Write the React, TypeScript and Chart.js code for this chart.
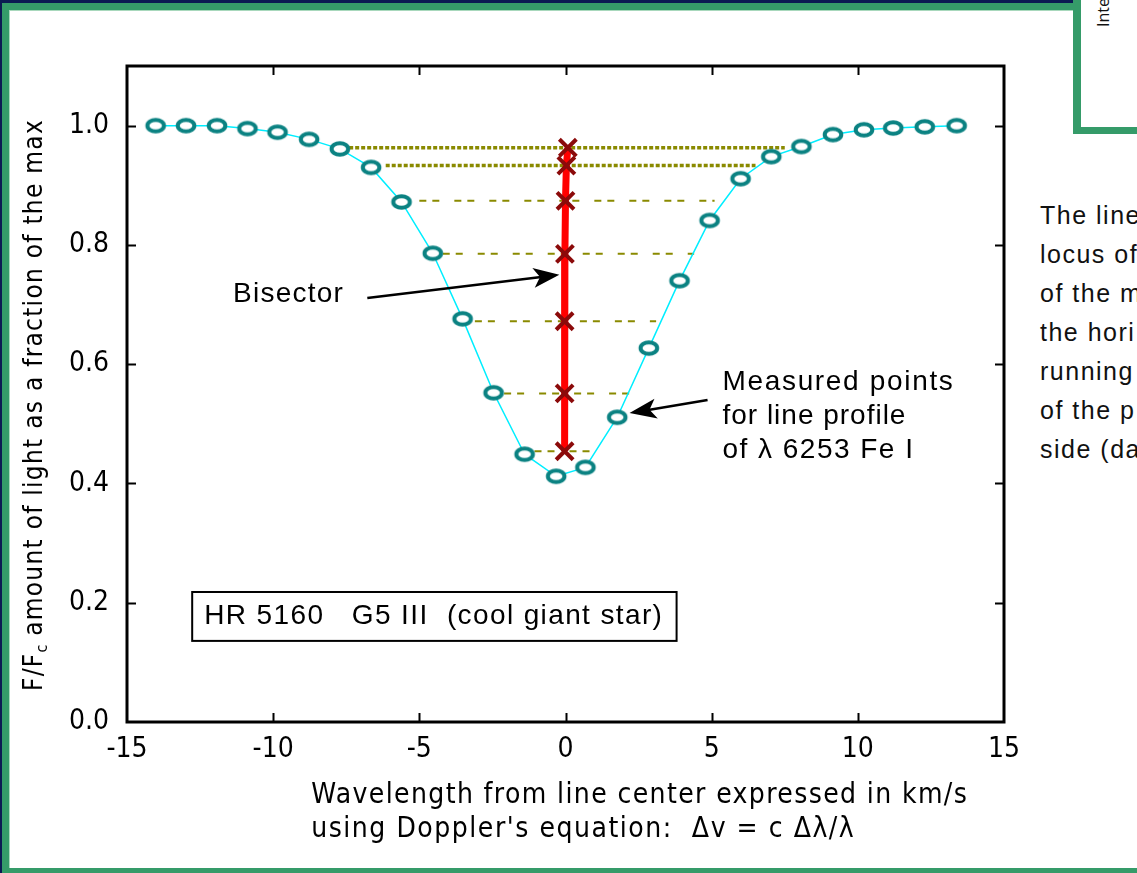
import React, { useEffect, useRef } from 'react';
import { Chart, registerables } from 'chart.js';

Chart.register(...registerables);

// ---- data ----
const profileX = [-14.02, -12.98, -11.92, -10.88, -9.85, -8.77, -7.72, -6.65, -5.61, -4.54, -3.52, -2.46, -1.40, -0.32, 0.68, 1.77, 2.85, 3.90, 4.93, 5.99, 7.04, 8.07, 9.15, 10.21, 11.21, 12.29, 13.38];
const profileY = [1.0, 1.0, 1.0, 0.995, 0.989, 0.977, 0.961, 0.930, 0.872, 0.786, 0.676, 0.552, 0.449, 0.412, 0.427, 0.511, 0.627, 0.740, 0.841, 0.911, 0.948, 0.965, 0.985, 0.993, 0.996, 0.998, 1.0];
const bisectorX = [0.08, 0.03, 0.0, -0.02, -0.03, -0.03, -0.03];
const bisectorY = [0.963, 0.933, 0.874, 0.785, 0.672, 0.551, 0.454];
const levelLeft = [-7.4, -6.15, -5.0, -4.2, -3.1, -2.1, -1.06];
const levelRight = [7.5, 6.5, 5.1, 4.4, 3.1, 2.2, 1.0];

const xMin = -15;
const xMax = 15;
const xStep = 5;
const yMin = 0;
const yMax = 1.1;
const yStep = 0.2;

const yTitle = ['F/F', 'c', ' amount of light as a fraction of the max'];
const xTitle1 = 'Wavelength from line center expressed in km/s';
const xTitle2 = "using Doppler's equation:  \u0394v = c \u0394\u03bb/\u03bb";
const bisectorLabel = 'Bisector';
const measuredLabel = ['Measured points', 'for line profile', 'of \u03bb 6253 Fe I'];
const starLabel = 'HR 5160   G5 III  (cool giant star)';
const sideText = ['The line', 'locus of', 'of the m', 'the hori', 'running', 'of the p', 'side (da'];

const FONT = '"Liberation Sans Narrow", "DejaVu Sans Condensed", "Liberation Sans", Arial, sans-serif';
const FONT2 = '"Liberation Sans", Arial, sans-serif';

function fitText(ctx: CanvasRenderingContext2D, text: string, x: number, y: number, width: number, font: string) {
  ctx.font = font;
  (ctx as any).letterSpacing = '0px';
  const w = ctx.measureText(text).width;
  const n = Array.from(text).length;
  const ls = n > 1 ? (width - w) / n : 0;
  (ctx as any).letterSpacing = ls.toFixed(2) + 'px';
  ctx.fillText(text, x, y);
  (ctx as any).letterSpacing = '0px';
}

function arrow(ctx: CanvasRenderingContext2D, x1: number, y1: number, x2: number, y2: number, len: number, half: number) {
  const a = Math.atan2(y2 - y1, x2 - x1);
  const c = Math.cos(a);
  const s = Math.sin(a);
  ctx.beginPath();
  ctx.moveTo(x1, y1);
  ctx.lineTo(x2 - len * 0.7 * c, y2 - len * 0.7 * s);
  ctx.stroke();
  ctx.beginPath();
  ctx.moveTo(x2, y2);
  ctx.lineTo(x2 - len * c - half * s, y2 - len * s + half * c);
  ctx.lineTo(x2 - len * 0.75 * c, y2 - len * 0.75 * s);
  ctx.lineTo(x2 - len * c + half * s, y2 - len * s - half * c);
  ctx.closePath();
  ctx.fill();
}

function makeEllipse(): HTMLCanvasElement {
  const c = document.createElement('canvas');
  c.width = 24;
  c.height = 20;
  const g = c.getContext('2d')!;
  g.beginPath();
  g.ellipse(12, 10, 8.3, 5.8, 0, 0, Math.PI * 2);
  g.fillStyle = '#ffffff';
  g.fill();
  g.lineWidth = 4;
  g.strokeStyle = '#0b8282';
  g.stroke();
  return c;
}

const framePlugin = {
  id: 'frameAndNotes',
  afterDatasetsDraw(chart: any) {
    const { ctx, chartArea: a, scales } = chart;
    const x = scales.x;
    const y = scales.y;
    ctx.save();
    // plot frame
    ctx.strokeStyle = '#000';
    ctx.lineWidth = 3;
    ctx.strokeRect(a.left, a.top, a.right - a.left, a.bottom - a.top);
    // inward ticks
    ctx.lineWidth = 2;
    ctx.beginPath();
    for (const t of x.ticks) {
      if (t.value <= xMin || t.value >= xMax) continue;
      const px = Math.round(x.getPixelForValue(t.value)) + 0.5;
      ctx.moveTo(px, a.bottom);
      ctx.lineTo(px, a.bottom - 9);
      ctx.moveTo(px, a.top);
      ctx.lineTo(px, a.top + 9);
    }
    for (const t of y.ticks) {
      if (t.value <= yMin + 1e-9) continue;
      const py = Math.round(y.getPixelForValue(t.value)) + 0.5;
      ctx.moveTo(a.left, py);
      ctx.lineTo(a.left + 9, py);
      ctx.moveTo(a.right, py);
      ctx.lineTo(a.right - 9, py);
    }
    ctx.stroke();

    ctx.fillStyle = '#000';
    ctx.strokeStyle = '#000';
    ctx.textBaseline = 'middle';
    ctx.textAlign = 'left';

    // Bisector annotation
    fitText(ctx, bisectorLabel, x.getPixelForValue(-11.37), y.getPixelForValue(0.717), 111, '28px ' + FONT2);
    ctx.lineWidth = 2.5;
    arrow(ctx, x.getPixelForValue(-6.78), y.getPixelForValue(0.711), x.getPixelForValue(-0.21), y.getPixelForValue(0.750), 26, 10);

    // Measured points annotation
    const mY = [0.569, 0.512, 0.455];
    const mW = [232, 184, 192];
    measuredLabel.forEach((t, i) => {
      fitText(ctx, t, x.getPixelForValue(5.37), y.getPixelForValue(mY[i]), mW[i], '28px ' + FONT2);
    });
    arrow(ctx, x.getPixelForValue(4.86), y.getPixelForValue(0.540), x.getPixelForValue(2.19), y.getPixelForValue(0.518), 27, 10);

    // star label box
    const bl = x.getPixelForValue(-12.77);
    const br = x.getPixelForValue(3.80);
    const bt = y.getPixelForValue(0.218);
    const bb = y.getPixelForValue(0.136);
    ctx.lineWidth = 2;
    ctx.fillStyle = '#fff';
    ctx.fillRect(bl, bt, br - bl, bb - bt);
    ctx.strokeRect(bl, bt, br - bl, bb - bt);
    ctx.fillStyle = '#000';
    fitText(ctx, starLabel, x.getPixelForValue(-12.36), y.getPixelForValue(0.177), 459, '28px ' + FONT2);

    // x axis title
    const tx = x.getPixelForValue(-8.7);
    fitText(ctx, xTitle1, tx, a.bottom + 74, 657, '28px ' + FONT);
    fitText(ctx, xTitle2, tx, a.bottom + 108, 544, '28px ' + FONT);

    // y axis title (rotated)
    ctx.translate(35, 691);
    ctx.rotate(-Math.PI / 2);
    const mainFont = '26px ' + FONT;
    const subFont = '16px ' + FONT;
    ctx.font = mainFont;
    (ctx as any).letterSpacing = '0px';
    const w0 = ctx.measureText(yTitle[0]).width;
    const w2 = ctx.measureText(yTitle[2]).width;
    ctx.font = subFont;
    const w1 = ctx.measureText(yTitle[1]).width;
    const total = 572;
    const n = Array.from(yTitle[0] + yTitle[2]).length;
    const ls = (total - w0 - w1 - w2) / n;
    ctx.font = mainFont;
    (ctx as any).letterSpacing = ls + 'px';
    ctx.fillText(yTitle[0], 0, 0);
    const p1 = w0 + ls * yTitle[0].length;
    ctx.font = subFont;
    (ctx as any).letterSpacing = '0px';
    ctx.fillText(yTitle[1], p1, 8);
    ctx.font = mainFont;
    (ctx as any).letterSpacing = ls + 'px';
    ctx.fillText(yTitle[2], p1 + w1, 0);
    (ctx as any).letterSpacing = '0px';
    ctx.restore();
  },
};

export default function App() {
  const ref = useRef<HTMLCanvasElement | null>(null);

  useEffect(() => {
    if (!ref.current) return;
    const ellipse = makeEllipse();
    const profile = profileX.map((v, i) => ({ x: v, y: profileY[i] }));
    const bisector = bisectorX.map((v, i) => ({ x: v, y: bisectorY[i] }));
    const levels = bisectorY.map((lv, i) => ({
      label: 'level ' + (i + 1),
      data: [
        { x: levelLeft[i], y: lv },
        { x: levelRight[i], y: lv },
      ],
      showLine: true,
      borderColor: '#8a8a00',
      borderWidth: i < 2 ? 3.5 : 2,
      borderDash: i < 2 ? [4, 2] : [7, 6, 7, 15],
      pointRadius: 0,
      order: 3,
    }));

    const chart = new Chart(ref.current, {
      type: 'scatter',
      data: {
        datasets: [
          {
            label: 'Measured profile',
            data: profile,
            showLine: true,
            borderColor: '#00eeff',
            borderWidth: 1.5,
            tension: 0,
            pointStyle: ellipse as any,
            pointRadius: 9,
            order: 0,
          },
          {
            label: 'Bisector points',
            data: bisector,
            showLine: false,
            pointStyle: 'crossRot',
            pointRadius: 12,
            pointBorderWidth: 4,
            pointBorderColor: '#8b0a0a',
            pointBackgroundColor: '#8b0a0a',
            order: 1,
          },
          {
            label: 'Bisector',
            data: bisector,
            showLine: true,
            borderColor: '#ff0000',
            borderWidth: 7,
            pointRadius: 0,
            order: 2,
          },
          ...levels,
        ] as any,
      },
      options: {
        animation: false,
        responsive: false,
        events: [],
        layout: { padding: { left: 0, top: 66, right: 133, bottom: 0 } },
        plugins: {
          legend: { display: false },
          tooltip: { enabled: false },
        },
        scales: {
          x: {
            type: 'linear',
            min: xMin,
            max: xMax,
            grid: { display: false, drawTicks: false },
            border: { display: false },
            ticks: {
              stepSize: xStep,
              color: '#000',
              padding: 11,
              font: { family: FONT, size: 28 },
              callback: (v: any) => String(v),
            },
            afterFit: (s: any) => {
              s.height = 151;
            },
          },
          y: {
            type: 'linear',
            min: yMin,
            max: yMax,
            grid: { display: false, drawTicks: false },
            border: { display: false },
            ticks: {
              stepSize: yStep,
              includeBounds: false,
              color: '#000',
              padding: 18,
              font: { family: FONT, size: 28 },
              callback: (v: any) => Number(v).toFixed(1),
            },
            afterFit: (s: any) => {
              s.width = 127;
            },
          },
        },
      } as any,
      plugins: [framePlugin],
    });
    return () => chart.destroy();
  }, []);

  return (
    <div style={{ position: 'fixed', left: 0, top: 0, width: 1137, height: 873, overflow: 'hidden', background: '#0b1a52' }}>
      <div style={{ position: 'absolute', left: 2, top: 3, width: 1200, height: 900, background: '#359b69' }} />
      <div style={{ position: 'absolute', left: 9, top: 10, width: 1200, height: 858, background: '#ffffff', borderTop: '1px solid #a8d8bc', borderLeft: '1px solid #a8d8bc', boxSizing: 'border-box' }} />
      <div style={{ position: 'absolute', left: 1073, top: 0, width: 80, height: 134, background: '#359b69' }} />
      <div style={{ position: 'absolute', left: 1081, top: 0, width: 80, height: 127, background: '#ffffff', overflow: 'hidden' }}>
        <div style={{ position: 'absolute', left: 12, top: 27, transformOrigin: 'left top', transform: 'rotate(-90deg)', font: '16px "Open Sans", sans-serif', whiteSpace: 'nowrap', lineHeight: '20px', color: '#111' }}>Interactive</div>
      </div>
      <div style={{ position: 'absolute', left: 1040, top: 196, width: 200, font: '25px "Liberation Sans", Arial, sans-serif', letterSpacing: '1.5px', lineHeight: '39px', color: '#111', whiteSpace: 'nowrap' }}>
        {sideText.map((t, i) => (
          <div key={i}>{t}</div>
        ))}
      </div>
      <canvas ref={ref} width={1137} height={873} style={{ position: 'absolute', left: 0, top: 0, width: 1137, height: 873 }} />
    </div>
  );
}
